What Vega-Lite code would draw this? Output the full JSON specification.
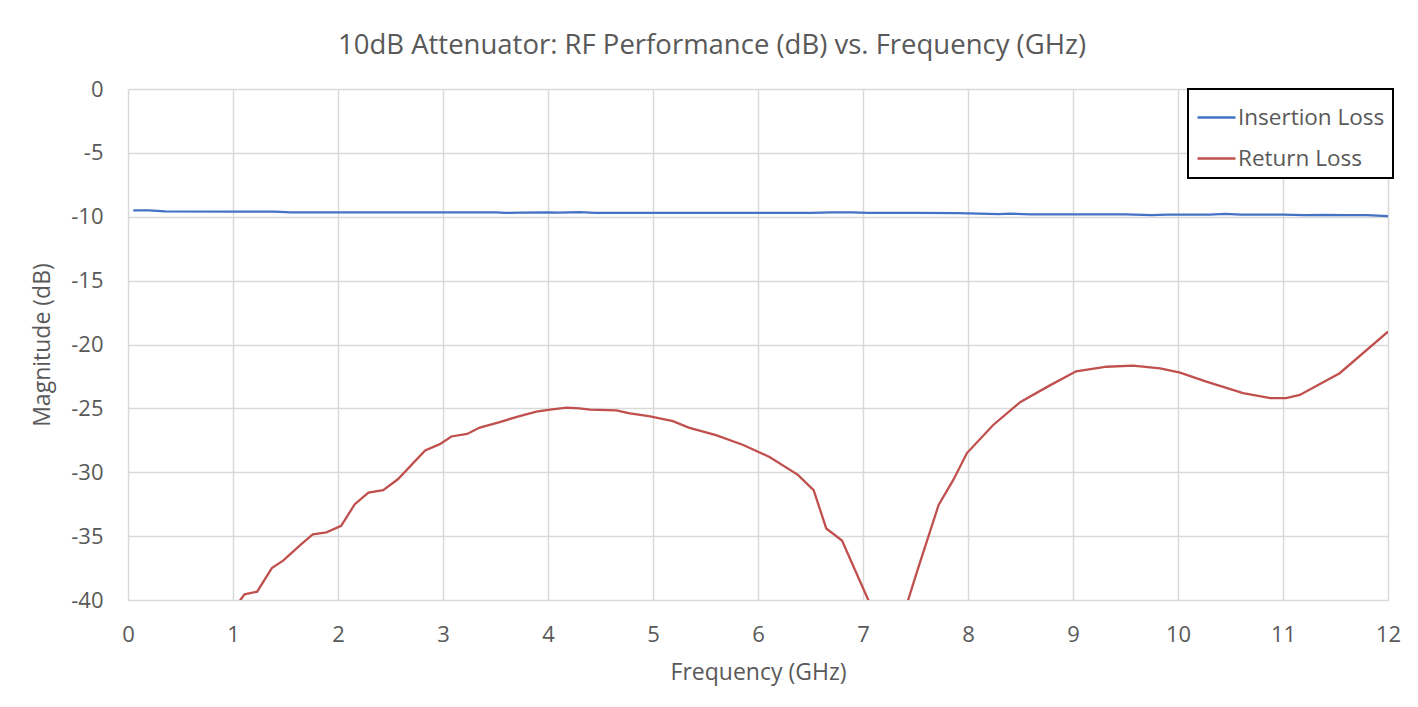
{
  "$schema": "https://vega.github.io/schema/vega-lite/v6.json",
  "width": 1260,
  "height": 511,
  "autosize": {"type": "none"},
  "padding": {"left": 128, "top": 89, "right": 30, "bottom": 107},
  "background": "white",
  "config": {
    "font": "Open Sans",
    "view": {"stroke": null}
  },
  "title": {
    "text": "10dB Attenuator: RF Performance (dB) vs. Frequency (GHz)",
    "fontSize": 27.5,
    "font": "Open Sans",
    "fontWeight": "normal",
    "color": "#595959",
    "anchor": "middle",
    "frame": "group",
    "dx": -46,
    "offset": 19
  },
  "data": {
    "values": [
      {"f": 0.05, "v": -9.5, "s": "Insertion Loss"},
      {"f": 0.2, "v": -9.5, "s": "Insertion Loss"},
      {"f": 0.35, "v": -9.58, "s": "Insertion Loss"},
      {"f": 1.0, "v": -9.6, "s": "Insertion Loss"},
      {"f": 1.4, "v": -9.6, "s": "Insertion Loss"},
      {"f": 1.55, "v": -9.65, "s": "Insertion Loss"},
      {"f": 2.0, "v": -9.65, "s": "Insertion Loss"},
      {"f": 3.0, "v": -9.65, "s": "Insertion Loss"},
      {"f": 3.5, "v": -9.65, "s": "Insertion Loss"},
      {"f": 3.6, "v": -9.7, "s": "Insertion Loss"},
      {"f": 3.75, "v": -9.67, "s": "Insertion Loss"},
      {"f": 4.0, "v": -9.65, "s": "Insertion Loss"},
      {"f": 4.1, "v": -9.68, "s": "Insertion Loss"},
      {"f": 4.3, "v": -9.64, "s": "Insertion Loss"},
      {"f": 4.45, "v": -9.7, "s": "Insertion Loss"},
      {"f": 5.0, "v": -9.7, "s": "Insertion Loss"},
      {"f": 6.0, "v": -9.7, "s": "Insertion Loss"},
      {"f": 6.5, "v": -9.7, "s": "Insertion Loss"},
      {"f": 6.7, "v": -9.65, "s": "Insertion Loss"},
      {"f": 6.9, "v": -9.65, "s": "Insertion Loss"},
      {"f": 7.05, "v": -9.7, "s": "Insertion Loss"},
      {"f": 7.5, "v": -9.7, "s": "Insertion Loss"},
      {"f": 7.9, "v": -9.72, "s": "Insertion Loss"},
      {"f": 8.2, "v": -9.78, "s": "Insertion Loss"},
      {"f": 8.3, "v": -9.8, "s": "Insertion Loss"},
      {"f": 8.4, "v": -9.75, "s": "Insertion Loss"},
      {"f": 8.6, "v": -9.82, "s": "Insertion Loss"},
      {"f": 9.0, "v": -9.82, "s": "Insertion Loss"},
      {"f": 9.5, "v": -9.82, "s": "Insertion Loss"},
      {"f": 9.75, "v": -9.88, "s": "Insertion Loss"},
      {"f": 9.9, "v": -9.83, "s": "Insertion Loss"},
      {"f": 10.3, "v": -9.83, "s": "Insertion Loss"},
      {"f": 10.45, "v": -9.78, "s": "Insertion Loss"},
      {"f": 10.6, "v": -9.83, "s": "Insertion Loss"},
      {"f": 11.0, "v": -9.83, "s": "Insertion Loss"},
      {"f": 11.2, "v": -9.88, "s": "Insertion Loss"},
      {"f": 11.4, "v": -9.85, "s": "Insertion Loss"},
      {"f": 11.6, "v": -9.88, "s": "Insertion Loss"},
      {"f": 11.8, "v": -9.88, "s": "Insertion Loss"},
      {"f": 12.0, "v": -9.95, "s": "Insertion Loss"},
      {"f": 1.0, "v": -41.0, "s": "Return Loss"},
      {"f": 1.07, "v": -40.0, "s": "Return Loss"},
      {"f": 1.11, "v": -39.55, "s": "Return Loss"},
      {"f": 1.23, "v": -39.35, "s": "Return Loss"},
      {"f": 1.37, "v": -37.5, "s": "Return Loss"},
      {"f": 1.48, "v": -36.9, "s": "Return Loss"},
      {"f": 1.64, "v": -35.7, "s": "Return Loss"},
      {"f": 1.76, "v": -34.86, "s": "Return Loss"},
      {"f": 1.89, "v": -34.7, "s": "Return Loss"},
      {"f": 2.03, "v": -34.2, "s": "Return Loss"},
      {"f": 2.16, "v": -32.5, "s": "Return Loss"},
      {"f": 2.29, "v": -31.6, "s": "Return Loss"},
      {"f": 2.43, "v": -31.4, "s": "Return Loss"},
      {"f": 2.57, "v": -30.55, "s": "Return Loss"},
      {"f": 2.83, "v": -28.3, "s": "Return Loss"},
      {"f": 2.97, "v": -27.8, "s": "Return Loss"},
      {"f": 3.08, "v": -27.2, "s": "Return Loss"},
      {"f": 3.23, "v": -27.0, "s": "Return Loss"},
      {"f": 3.35, "v": -26.5, "s": "Return Loss"},
      {"f": 3.54, "v": -26.07, "s": "Return Loss"},
      {"f": 3.73, "v": -25.6, "s": "Return Loss"},
      {"f": 3.89, "v": -25.26, "s": "Return Loss"},
      {"f": 4.02, "v": -25.1, "s": "Return Loss"},
      {"f": 4.18, "v": -24.94, "s": "Return Loss"},
      {"f": 4.3, "v": -25.0, "s": "Return Loss"},
      {"f": 4.4, "v": -25.1, "s": "Return Loss"},
      {"f": 4.65, "v": -25.15, "s": "Return Loss"},
      {"f": 4.78, "v": -25.4, "s": "Return Loss"},
      {"f": 4.96, "v": -25.6, "s": "Return Loss"},
      {"f": 5.19, "v": -26.0, "s": "Return Loss"},
      {"f": 5.34, "v": -26.5, "s": "Return Loss"},
      {"f": 5.6, "v": -27.1, "s": "Return Loss"},
      {"f": 5.86, "v": -27.87, "s": "Return Loss"},
      {"f": 6.11, "v": -28.8, "s": "Return Loss"},
      {"f": 6.38, "v": -30.2, "s": "Return Loss"},
      {"f": 6.53, "v": -31.4, "s": "Return Loss"},
      {"f": 6.65, "v": -34.4, "s": "Return Loss"},
      {"f": 6.8, "v": -35.35, "s": "Return Loss"},
      {"f": 7.05, "v": -40.0, "s": "Return Loss"},
      {"f": 7.25, "v": -46.0, "s": "Return Loss"},
      {"f": 7.43, "v": -40.0, "s": "Return Loss"},
      {"f": 7.51, "v": -37.9, "s": "Return Loss"},
      {"f": 7.72, "v": -32.56, "s": "Return Loss"},
      {"f": 7.86, "v": -30.6, "s": "Return Loss"},
      {"f": 7.99, "v": -28.5, "s": "Return Loss"},
      {"f": 8.24, "v": -26.3, "s": "Return Loss"},
      {"f": 8.5, "v": -24.5, "s": "Return Loss"},
      {"f": 8.78, "v": -23.2, "s": "Return Loss"},
      {"f": 9.03, "v": -22.1, "s": "Return Loss"},
      {"f": 9.32, "v": -21.74, "s": "Return Loss"},
      {"f": 9.57, "v": -21.65, "s": "Return Loss"},
      {"f": 9.83, "v": -21.87, "s": "Return Loss"},
      {"f": 10.02, "v": -22.2, "s": "Return Loss"},
      {"f": 10.27, "v": -22.9, "s": "Return Loss"},
      {"f": 10.62, "v": -23.8, "s": "Return Loss"},
      {"f": 10.88, "v": -24.2, "s": "Return Loss"},
      {"f": 11.03, "v": -24.2, "s": "Return Loss"},
      {"f": 11.16, "v": -23.95, "s": "Return Loss"},
      {"f": 11.54, "v": -22.25, "s": "Return Loss"},
      {"f": 12.0, "v": -19.0, "s": "Return Loss"}
    ]
  },
  "mark": {"type": "line", "strokeWidth": 2.3, "clip": true, "interpolate": "linear"},
  "encoding": {
    "x": {
      "field": "f",
      "type": "quantitative",
      "scale": {"domain": [0, 12], "nice": false, "zero": false},
      "axis": {
        "title": "Frequency (GHz)",
        "values": [0,1,2,3,4,5,6,7,8,9,10,11,12],
        "labelExpr": "'' + datum.value",
        "labelFlush": false,
        "grid": true,
        "gridColor": "#d9d9d9",
        "gridWidth": 1.5,
        "domain": false,
        "ticks": false,
        "labelPadding": 24,
        "labelFontSize": 22,
        "labelColor": "#595959",
        "labelFont": "Open Sans",
        "titleFont": "Open Sans",
        "titleFontSize": 23,
        "titleFontWeight": "normal",
        "titleColor": "#595959",
        "titlePadding": 16
      }
    },
    "y": {
      "field": "v",
      "type": "quantitative",
      "scale": {"domain": [-40, 0], "nice": false, "zero": false},
      "axis": {
        "title": "Magnitude (dB)",
        "values": [0,-5,-10,-15,-20,-25,-30,-35,-40],
        "labelExpr": "'' + datum.value",
        "labelFlush": false,
        "grid": true,
        "gridColor": "#d9d9d9",
        "gridWidth": 1.5,
        "domain": false,
        "ticks": false,
        "labelPadding": 25,
        "labelFontSize": 22,
        "labelColor": "#595959",
        "labelFont": "Open Sans",
        "titleFont": "Open Sans",
        "titleFontSize": 23,
        "titleFontWeight": "normal",
        "titleColor": "#595959",
        "titlePadding": 16
      }
    },
    "color": {
      "field": "s",
      "type": "nominal",
      "scale": {"domain": ["Insertion Loss", "Return Loss"], "range": ["#4472c4", "#c0504d"]},
      "legend": {
        "title": null,
        "orient": "none",
        "legendX": 1060,
        "legendY": 0,
        "symbolType": "stroke",
        "symbolSize": 1444,
        "symbolStrokeWidth": 2.5,
        "labelFontSize": 22.5,
        "labelFont": "Open Sans",
        "labelColor": "#595959",
        "labelOffset": 1,
        "rowPadding": 9,
        "strokeColor": "#000000",
        "padding": 8,
        "fillColor": "white",
        "labelLimit": 300,
        "encode": {"legend": {"update": {"strokeWidth": {"value": 2}}}}
      }
    }
  }
}
